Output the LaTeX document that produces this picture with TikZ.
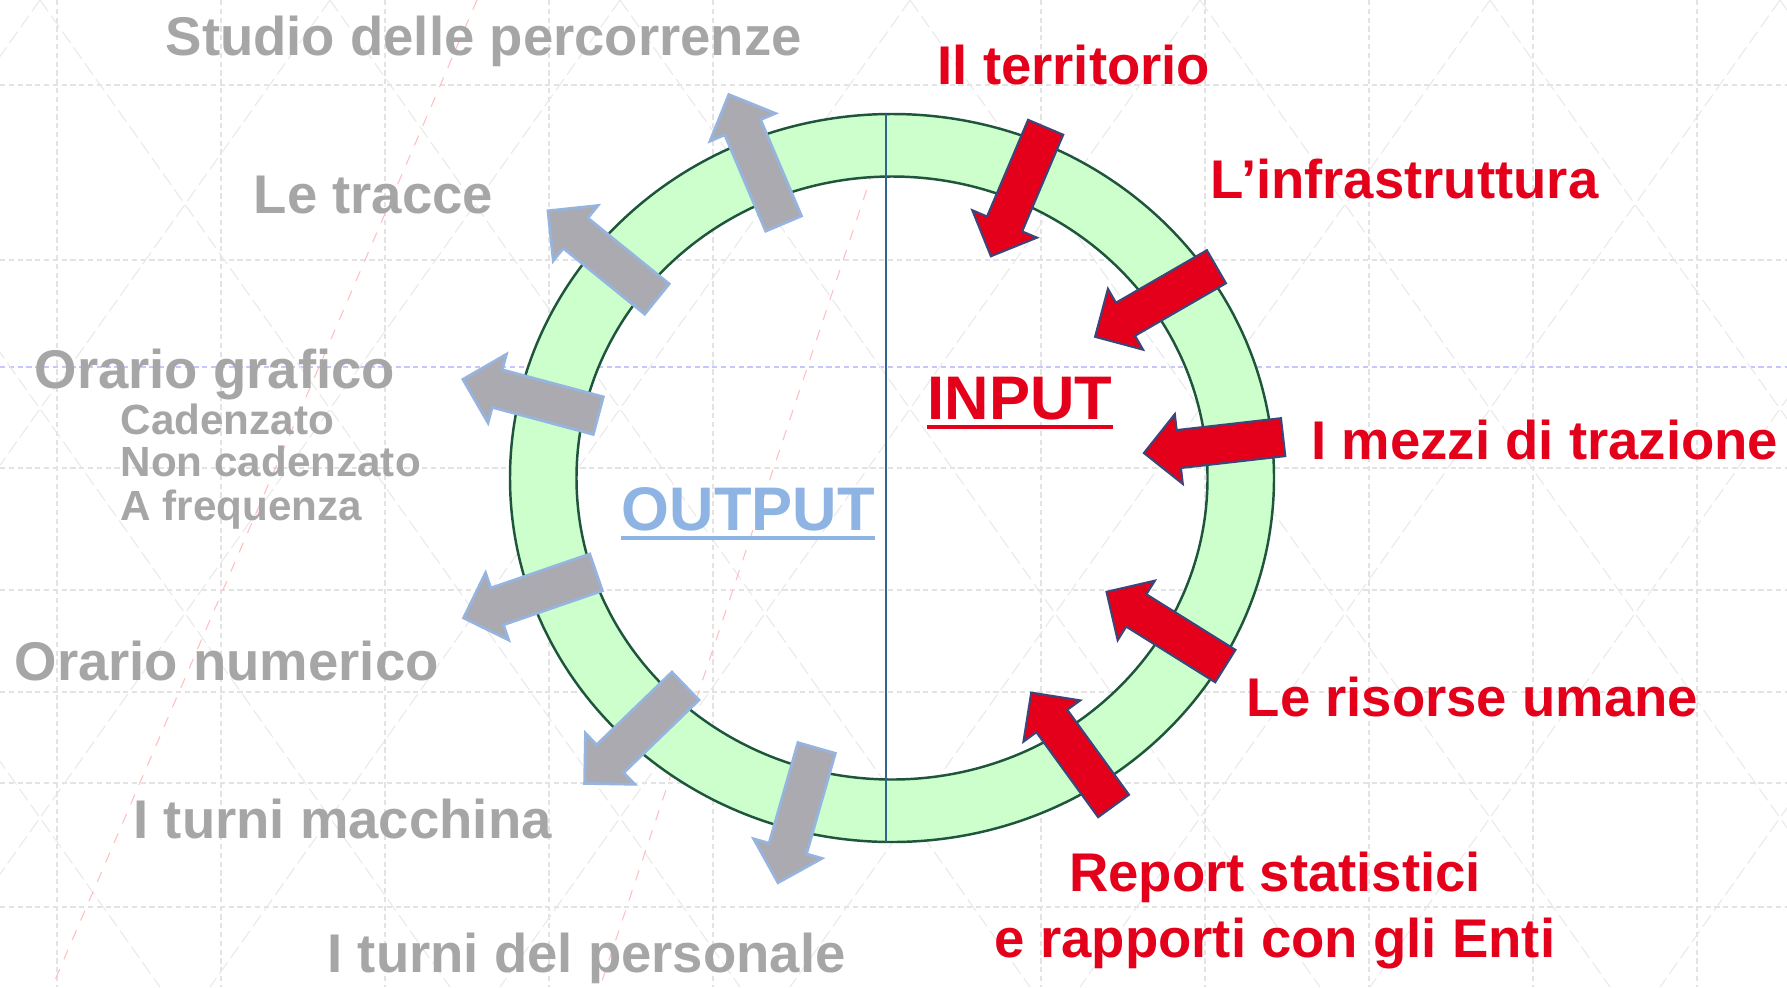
\documentclass[tikz,border=0pt]{standalone}
\usepackage{fontspec}
\setmainfont{Liberation Sans}
\usetikzlibrary{shapes.arrows}

\definecolor{inred}{RGB}{228,0,27}
\definecolor{outgrey}{RGB}{166,166,166}
\definecolor{outblue}{RGB}{141,180,226}
\definecolor{ringfill}{RGB}{204,255,204}
\definecolor{ringedge}{RGB}{30,85,60}
\definecolor{axisblue}{RGB}{50,100,140}
\definecolor{arrowgrey}{RGB}{170,170,176}
\definecolor{arrowrim}{RGB}{150,180,222}
\definecolor{rededge}{RGB}{60,70,120}

\tikzset{
  outlabel/.style={text=outgrey, font=\bfseries\fontsize{15.5}{18.6}\selectfont, inner sep=0pt, anchor=base west},
  sublabel/.style={text=outgrey, font=\bfseries\fontsize{12}{12}\selectfont, inner sep=0pt, anchor=base west},
  inlabel/.style={text=inred, font=\bfseries\fontsize{15.5}{18.6}\selectfont, inner sep=0pt, anchor=base west},
  titlelabel/.style={font=\bfseries\fontsize{17.5}{21}\selectfont, inner sep=0pt, anchor=base west},
  blockarrow/.style={single arrow, minimum height=1.4cm, minimum width=0.68cm,
    single arrow head extend=0.16cm, inner xsep=0pt, inner ysep=0.18cm},
  redarrow/.style={blockarrow, fill=inred, draw=rededge, line width=0.6pt},
  greyarrow/.style={blockarrow, fill=arrowgrey, draw=arrowrim, line width=0.8pt},
  gridline/.style={gray!22, line width=0.3pt, dash pattern=on 1.5pt off 1pt},
  pathline/.style={gray!17, line width=0.3pt, dash pattern=on 4pt off 1.5pt}
}

\begin{document}
\begin{tikzpicture}[x=0.01cm, y=-0.01cm]
\fill[white] (0,0) rectangle (1787,987);
\useasboundingbox (0,0) rectangle (1787,987);

% timetable grid in the background
\begin{scope}
\clip (0,0) rectangle (1787,987);
\foreach \gy in {85,260,468,590,692,783,907}
  \draw[gridline] (0,\gy) -- (1787,\gy);
\draw[gridline, blue!22] (0,367) -- (1787,367);
\foreach \gx in {57,221,385,549,713,1041,1205,1369,1533,1697}
  \draw[gridline] (\gx,0) -- (\gx,987);
\foreach \k in {-3,...,9} {
  \draw[pathline] (\k*290+40,0) -- ++(700,987);
  \draw[pathline] (\k*290+40,0) -- ++(-700,987);
}
\draw[red!25, line width=0.3pt, dashed] (477,0) -- (52,987);
\draw[red!25, line width=0.3pt, dashed] (880,150) -- (600,987);
\end{scope}

% ring
\path[fill=ringfill, draw=ringedge, line width=0.7pt, even odd rule]
  (892,478) ellipse [x radius=382, y radius=364]
  (892,478) ellipse [x radius=315.5, y radius=301.5];
\coordinate (axtop) at (886,114);
\coordinate (axbot) at (886,842);
\draw[axisblue, line width=0.5pt] (axtop) -- (axbot);

% arrows
\foreach \ax/\ay/\rot/\nm in {1022/183/247/territorio, 1164/297/210/infra,
    1223/444/186.5/mezzi, 1174/634/148/risorse, 1078/757/126/report}
  \node[redarrow, rotate=\rot] (in-\nm) at (\ax,\ay) {};
\foreach \ax/\ay/\rot/\nm in {760/168/113/studio, 610/261/141/tracce,
    540/400/165/grafico, 539/592/199/numerico, 642/728/224/macchina, 800/806/254/personale}
  \node[greyarrow, rotate=\rot] (out-\nm) at (\ax,\ay) {};

% output side
\node[outlabel] (studio) at (165,55) {Studio delle percorrenze};
\node[outlabel] (tracce) at (253,213) {Le tracce};
\node[outlabel] (grafico) at (34,388) {Orario grafico};
\node[sublabel] (cadenzato) at (120,434) {Cadenzato};
\node[sublabel] (noncadenzato) at (120,476) {Non cadenzato};
\node[sublabel] (frequenza) at (120,520) {A frequenza};
\node[outlabel] (numerico) at (14,680) {Orario numerico};
\node[outlabel] (macchina) at (133,838) {I turni macchina};
\node[outlabel] (personale) at (327,972) {I turni del personale};
\node[titlelabel, text=outblue] (output) at (621,530) {OUTPUT};
\draw[outblue, line width=1.4pt] ([yshift=-0.08cm]output.base west) -- ([yshift=-0.08cm]output.base east);

% input side
\node[inlabel] (territorio) at (937,84) {Il territorio};
\node[inlabel] (infra) at (1210,198) {L’infrastruttura};
\node[inlabel] (mezzi) at (1311,459) {I mezzi di trazione};
\node[inlabel] (risorse) at (1246,716) {Le risorse umane};
\node[inlabel, anchor=base, align=center] (report) at (1275,957) {Report statistici\\e rapporti con gli Enti};
\node[titlelabel, text=inred] (input) at (927,419) {INPUT};
\draw[inred, line width=1.4pt] ([yshift=-0.08cm]input.base west) -- ([yshift=-0.08cm]input.base east);
\end{tikzpicture}
\end{document}
